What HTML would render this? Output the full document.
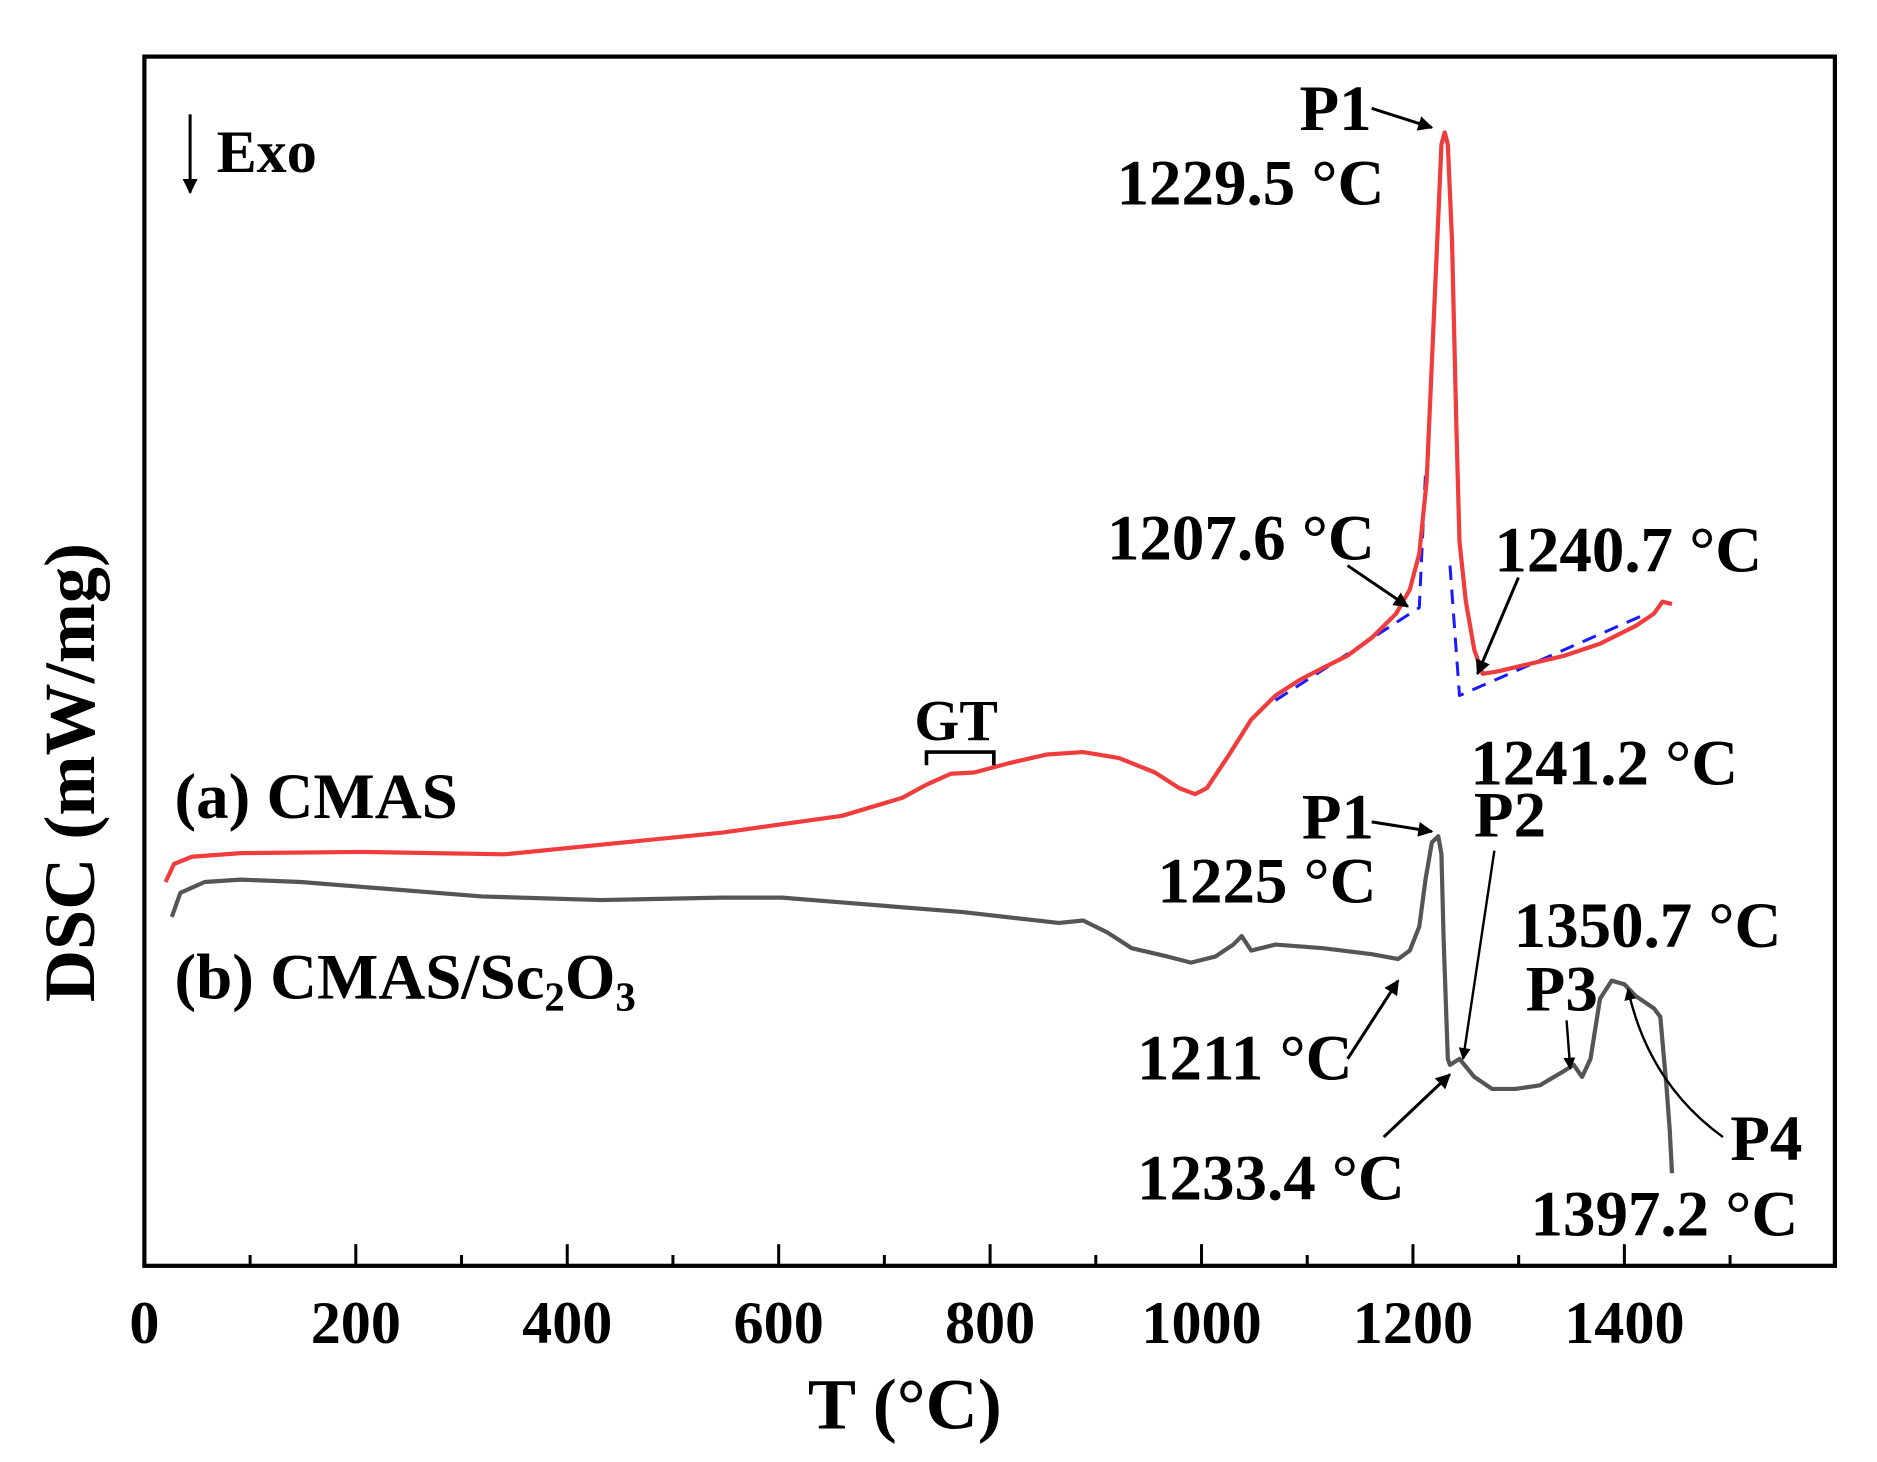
<!DOCTYPE html>
<html><head><meta charset="utf-8"><style>
html,body{margin:0;padding:0;background:#fff;}
svg{display:block;}
text{font-family:"Liberation Serif",serif;font-weight:bold;fill:#000;}
</style></head><body>
<svg id="chart" width="1877" height="1462" viewBox="0 0 1560 1215" xmlns="http://www.w3.org/2000/svg">
<defs>
<marker id="ah" viewBox="0 0 10 10" refX="9" refY="5" markerWidth="5" markerHeight="5" orient="auto"><path d="M0,0 L10,5 L0,10 z" fill="#000"/></marker>
</defs>
<g id="marks"></g>
<rect x="120" y="47" width="1405" height="1005" fill="none" stroke="#000" stroke-width="3.5"/>
<g id="ticks"></g>
<text x="752" y="1187" font-size="60" text-anchor="middle">T (°C)</text>
<text transform="translate(78,642) rotate(-90)" font-size="60" text-anchor="middle">DSC (mW/mg)</text>
<g>
<line x1="158" y1="95" x2="158" y2="160" stroke="#000" stroke-width="2.5" marker-end="url(#ah)"/>
<text x="180" y="143" font-size="50">Exo</text></g>
<text x="145" y="680" font-size="54">(a) CMAS</text>
<text x="145" y="830" font-size="54">(b) CMAS/Sc<tspan font-size="34" dy="10">2</tspan><tspan dy="-10">O</tspan><tspan font-size="34" dy="10">3</tspan></text>
<g>
<text x="760" y="615" font-size="48">GT</text>
<path d="M770,636 V625 H826 V636" fill="none" stroke="#000" stroke-width="3"/></g>
<g font-size="54">
<text x="1080" y="108">P1</text>
<line x1="1140" y1="90" x2="1190" y2="106" stroke="#000" stroke-width="2.5" marker-end="url(#ah)"/>
<text x="928" y="170">1229.5 °C</text>
<text x="920" y="465">1207.6 °C</text>
<line x1="1120" y1="470" x2="1170" y2="504" stroke="#000" stroke-width="2.5" marker-end="url(#ah)"/>
<text x="1242" y="475">1240.7 °C</text>
<line x1="1262" y1="480" x2="1228" y2="560" stroke="#000" stroke-width="2.5" marker-end="url(#ah)"/>
<text x="1222" y="652">1241.2 °C</text>
<text x="1082" y="697">P1</text>
<line x1="1140" y1="683" x2="1190" y2="691" stroke="#000" stroke-width="2.5" marker-end="url(#ah)"/>
<text x="1225" y="695">P2</text>
<line x1="1242" y1="707" x2="1216" y2="880" stroke="#000" stroke-width="2" marker-end="url(#ah)"/>
<text x="962" y="750">1225 °C</text>
<text x="1258" y="787">1350.7 °C</text>
<text x="1268" y="840">P3</text>
<line x1="1302" y1="848" x2="1305" y2="888" stroke="#000" stroke-width="2" marker-end="url(#ah)"/>
<text x="945" y="897">1211 °C</text>
<line x1="1120" y1="880" x2="1162" y2="815" stroke="#000" stroke-width="2.5" marker-end="url(#ah)"/>
<text x="945" y="997">1233.4 °C</text>
<line x1="1150" y1="945" x2="1205" y2="893" stroke="#000" stroke-width="2.5" marker-end="url(#ah)"/>
<text x="1438" y="964">P4</text>
<path d="M1432,945 Q1370,900 1353,822" fill="none" stroke="#000" stroke-width="2" marker-end="url(#ah)"/>
<text x="1272" y="1027">1397.2 °C</text>
</g>
</svg>
<script>
// temperature (°C) and DSC signal (arbitrary units)
const tempA = [20,28,45,91,205,341,432,546,660,717,740,763,785,819,854,888,922,956,979,994,1005,1024,1047,1070,1093,1115,1138,1161,1184,1197,1206,1213,1218,1224,1227,1230,1233,1237,1241,1244,1250,1258,1266,1280,1309,1343,1377,1411,1428,1436,1445];
const dscA = [32,33.5,34.1,34.4,34.5,34.3,35.1,36.1,37.5,39,40.1,41,41.1,41.9,42.6,42.8,42.3,41.1,39.8,39.3,39.8,42.3,45.5,47.5,48.8,49.8,50.8,52.3,54.3,56.3,59.3,65.3,75.3,87.3,93.3,94.3,93.3,85.3,70.3,60.3,55.3,51.3,49.3,49.5,50.1,50.8,51.8,53.3,54.3,55.3,55.1];
const tempB = [26,34,57,91,148,205,319,432,546,603,660,774,865,888,911,934,968,990,1013,1030,1038,1047,1070,1115,1161,1186,1197,1206,1212,1218,1224,1227,1229,1233,1235,1244,1258,1275,1297,1320,1343,1352,1360,1368,1377,1388,1400,1411,1428,1434,1440,1443,1445];
const dscB = [29.1,31.1,32,32.2,32,31.6,30.8,30.5,30.7,30.7,30.3,29.5,28.6,28.8,27.8,26.5,25.8,25.3,25.8,26.8,27.5,26.3,26.8,26.5,26,25.6,26.3,28.3,32.3,35.3,35.8,34.3,27.3,17.3,16.8,17.3,15.8,14.8,14.8,15.1,16.3,16.8,15.8,17.3,22.3,23.8,23.5,22.5,21.5,20.8,14.8,11.3,7.8];
const baseLeftT = [1070,1206,1212];
const baseLeftV = [47.1,54.8,66.3];
const baseRightT = [1235,1244,1416];
const baseRightV = [58.3,47.5,54.1];
const xTicks = [0,200,400,600,800,1000,1200,1400];
const minorTicks = [100,300,500,700,900,1100,1300,1500];

const X = t => 120 + t * 0.8786;
const Y = v => 1053 - v * 10;
const NS = 'http://www.w3.org/2000/svg';
const marks = document.getElementById('marks');
function line(ts, vs, color, w, dash, name) {
  const p = document.createElementNS(NS, 'path');
  p.setAttribute('d', ts.map((t, i) => (i ? 'L' : 'M') + X(t).toFixed(1) + ',' + Y(vs[i]).toFixed(1)).join(' '));
  p.setAttribute('fill', 'none');
  p.setAttribute('stroke', color);
  p.setAttribute('stroke-width', w);
  p.setAttribute('stroke-linejoin', 'round');
  if (dash) p.setAttribute('stroke-dasharray', dash);
  
  
  marks.appendChild(p);
}
line(baseLeftT, baseLeftV, '#1a1aff', 2.5, '12,8', 'baseline-left');
line(baseRightT, baseRightV, '#1a1aff', 2.5, '12,8', 'baseline-right');
line(tempA, dscA, '#f03c3c', 3.5, null, 'series-cmas');
line(tempB, dscB, '#555555', 3.5, null, 'series-cmas-sc2o3');

const tg = document.getElementById('ticks');
xTicks.forEach(t => {
  const l = document.createElementNS(NS, 'line');
  l.setAttribute('x1', X(t)); l.setAttribute('x2', X(t));
  l.setAttribute('y1', 1052); l.setAttribute('y2', 1034);
  l.setAttribute('stroke', '#000'); l.setAttribute('stroke-width', 2.5);
  
  
  tg.appendChild(l);
  const tx = document.createElementNS(NS, 'text');
  tx.setAttribute('x', X(t)); tx.setAttribute('y', 1116);
  tx.setAttribute('font-size', 50); tx.setAttribute('text-anchor', 'middle');
  tx.textContent = t;
  
  
  tg.appendChild(tx);
});
minorTicks.forEach(t => {
  const l = document.createElementNS(NS, 'line');
  l.setAttribute('x1', X(t)); l.setAttribute('x2', X(t));
  l.setAttribute('y1', 1052); l.setAttribute('y2', 1043);
  l.setAttribute('stroke', '#000'); l.setAttribute('stroke-width', 2.5);
  
  
  tg.appendChild(l);
});
</script>
</body></html>
